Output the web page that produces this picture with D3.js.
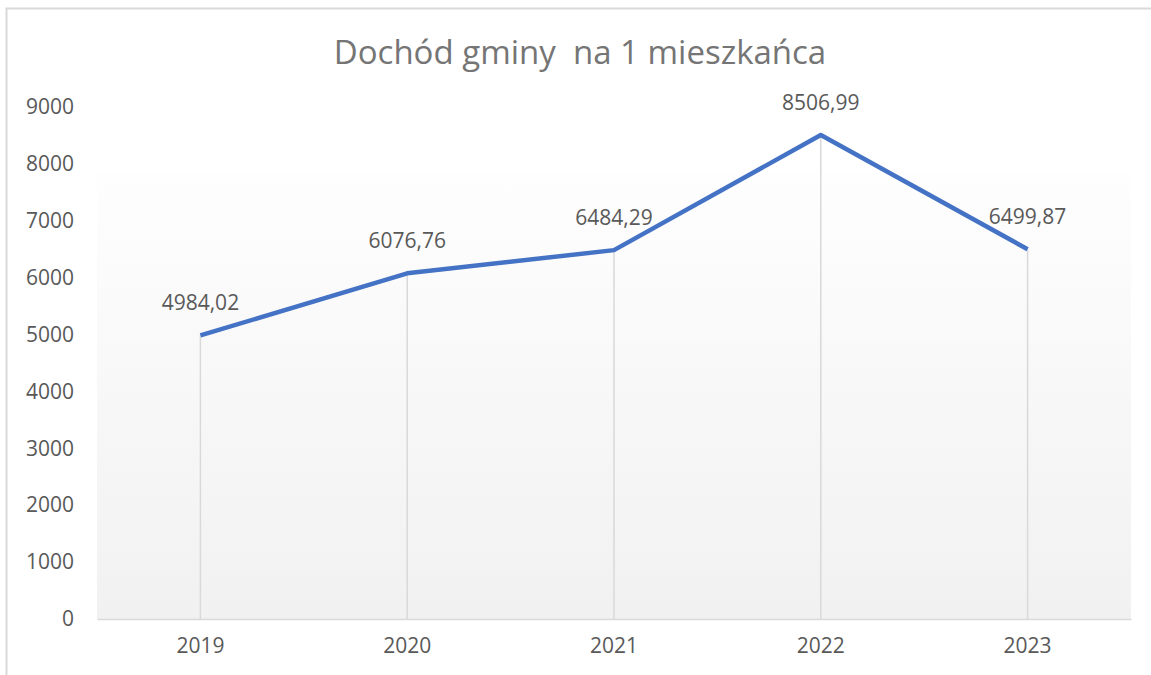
<!DOCTYPE html>
<html>
<head>
<meta charset="utf-8">
<script src="https://cdn.jsdelivr.net/npm/d3@7"></script>
<style>
  body { margin: 0; background: #fff; }
  text { font-family: "Open Sans", sans-serif; }
</style>
</head>
<body>
<div id="chart"></div>
<script>
// Data
const years = ["2019", "2020", "2021", "2022", "2023"];
const values = [4984.02, 6076.76, 6484.29, 8506.99, 6499.87];
const yTicks = [0, 1000, 2000, 3000, 4000, 5000, 6000, 7000, 8000, 9000];
const title = "Dochód gminy\u00a0 na 1 mieszkańca";

const width = 1151;
const height = 675;
const margin = {top: 107, right: 20, bottom: 56, left: 97};
const plotRight = 1131;

const svg = d3.select("#chart")
  .append("svg")
  .attr("width", width)
  .attr("height", height);

// chart border (right/bottom cut off like the reference)
svg.append("rect")
  .attr("x", 6.5).attr("y", 8.5)
  .attr("width", 1170).attr("height", 690)
  .attr("fill", "none")
  .attr("stroke", "#d9d9d9")
  .attr("stroke-width", 2);

const x = d3.scaleBand()
  .domain(years)
  .range([margin.left, plotRight]);

const y = d3.scaleLinear()
  .domain([0, 9000])
  .range([height - margin.bottom, margin.top]);

// plot area gradient
const defs = svg.append("defs");
const grad = defs.append("linearGradient")
  .attr("id", "bg")
  .attr("x1", 0).attr("y1", 0).attr("x2", 0).attr("y2", 1);
grad.append("stop").attr("offset", "0%").attr("stop-color", "#fefefe");
grad.append("stop").attr("offset", "100%").attr("stop-color", "#f1f1f1");

svg.append("rect")
  .attr("x", margin.left)
  .attr("y", y(7830))
  .attr("width", plotRight - margin.left)
  .attr("height", y(0) - y(7830))
  .attr("fill", "url(#bg)");

// title
svg.append("text")
  .attr("x", 580)
  .attr("y", 64)
  .attr("text-anchor", "middle")
  .style("font-size", "33px")
  .attr("fill", "#757575")
  .text(title);

// y axis labels
const yAxis = svg.append("g")
  .attr("transform", `translate(${margin.left},0)`)
  .call(d3.axisLeft(y).tickValues(yTicks).tickFormat(d3.format("d")).tickSize(0).tickPadding(23));
yAxis.select(".domain").remove();
yAxis.selectAll("text")
  .style("font-size", "21px")
  .attr("fill", "#595959");

// drop lines
svg.selectAll("line.drop")
  .data(values)
  .enter()
  .append("line")
  .attr("class", "drop")
  .attr("x1", (d, i) => x(years[i]) + x.bandwidth() / 2)
  .attr("x2", (d, i) => x(years[i]) + x.bandwidth() / 2)
  .attr("y1", d => y(d))
  .attr("y2", y(0))
  .attr("stroke", "#d9d9d9")
  .attr("stroke-width", 1.5);

// x axis
const xAxis = svg.append("g")
  .attr("transform", `translate(0,${y(0)})`)
  .call(d3.axisBottom(x).tickSize(0).tickPadding(19));
xAxis.select(".domain")
  .attr("stroke", "#d9d9d9")
  .attr("stroke-width", 1.5);
xAxis.selectAll("text")
  .style("font-size", "21px")
  .attr("fill", "#595959");

// line
const line = d3.line()
  .x((d, i) => x(years[i]) + x.bandwidth() / 2)
  .y(d => y(d));

svg.append("path")
  .datum(values)
  .attr("fill", "none")
  .attr("stroke", "#4472c4")
  .attr("stroke-width", 4.5)
  .attr("stroke-linejoin", "round")
  .attr("d", line);

// data labels
svg.selectAll("text.lbl")
  .data(values)
  .enter()
  .append("text")
  .attr("class", "lbl")
  .attr("x", (d, i) => x(years[i]) + x.bandwidth() / 2)
  .attr("y", d => y(d) - 25)
  .attr("text-anchor", "middle")
  .style("font-size", "21px")
  .attr("fill", "#595959")
  .text(d => d.toFixed(2).replace(".", ","));
</script>
</body>
</html>
